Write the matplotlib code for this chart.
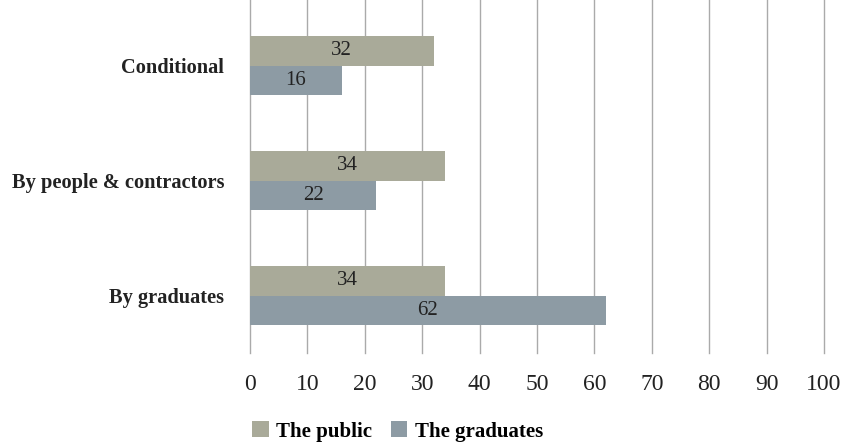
import matplotlib
matplotlib.use("Agg")
import matplotlib.pyplot as plt
import numpy as np

categories = ["Conditional", "By people & contractors", "By graduates"]
public = [32, 34, 34]
graduates = [16, 22, 62]
series_names = ["The public", "The graduates"]
xticks = [0, 10, 20, 30, 40, 50, 60, 70, 80, 90, 100]

c_pub = "#a9aa99"
c_grad = "#8d9ba4"

plt.rcParams["font.family"] = ["Liberation Serif", "DejaVu Serif"]

fig = plt.figure(figsize=(8.44, 4.44), dpi=100)
ax = fig.add_axes([250/844, 1-353/444, 574/844, 353/444])

y = np.arange(len(categories))
h = 0.26
ax.barh(y - h/2, public, height=h, color=c_pub, zorder=3, label=series_names[0])
ax.barh(y + h/2, graduates, height=h, color=c_grad, zorder=3, label=series_names[1])
for yi, v in zip(y, public):
    ax.text(v/2, yi - h/2, str(v), ha="center", va="center", fontsize=15, color="#222222", zorder=4)
for yi, v in zip(y, graduates):
    ax.text(v/2, yi + h/2, str(v), ha="center", va="center", fontsize=15, color="#222222", zorder=4)

ax.set_ylim(len(categories) - 0.5, -0.57)
ax.set_xlim(0, 100)
ax.set_yticks(y)
ax.set_yticklabels(categories, fontsize=14.7, fontweight="bold", color="#222222")
ax.set_xticks(xticks)
ax.set_xticklabels([str(t) for t in xticks], fontsize=17, color="#222222")
ax.tick_params(axis="both", length=0)
ax.tick_params(axis="x", pad=15)
ax.tick_params(axis="y", pad=18.5)
ax.xaxis.grid(True, color="#aaaaaa", linewidth=1, zorder=0)
for gl in ax.get_xgridlines():
    gl.set_clip_on(False)
for s in ax.spines.values():
    s.set_visible(False)

leg = fig.legend(loc="lower center", bbox_to_anchor=(0.471, -0.037), ncol=2, frameon=False,
                 prop={"weight": "bold", "size": 15}, handlelength=0.8, handleheight=0.8,
                 columnspacing=0.9, handletextpad=0.35)
fig.savefig("out.png", dpi=100)
